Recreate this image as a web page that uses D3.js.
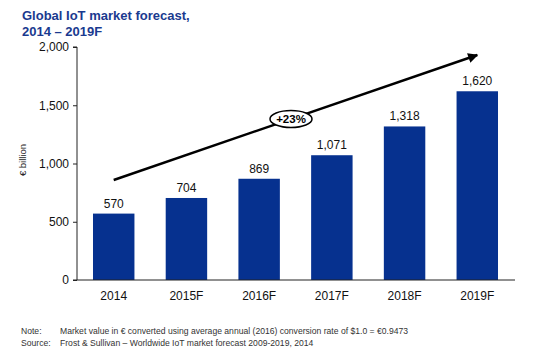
<!DOCTYPE html>
<html><head><meta charset="utf-8">
<script src="https://cdn.jsdelivr.net/npm/d3@7"></script>
<style>body{margin:0;background:#fff;font-family:"Liberation Sans",Arial,sans-serif}</style>
</head><body><svg id="c" width="535" height="358"></svg>
<script>
const categories = ["2014","2015F","2016F","2017F","2018F","2019F"];
const values = [570,704,869,1071,1318,1620];
const valueLabels = ["570","704","869","1,071","1,318","1,620"];
const yTicks = [0,500,1000,1500,2000];
const cagrLabel = "+23%";

const svg = d3.select("#c");
const blue = "#06318f";
const x = d3.scaleBand().domain(categories).range([77,514]).paddingInner(0.43).paddingOuter(0.22);
const y = d3.scaleLinear().domain([0,2000]).range([280,47]);

svg.append("text").attr("x",22).attr("y",20).attr("fill","#1a3a8f").attr("font-weight","bold").attr("font-size",13).text("Global IoT market forecast,");
svg.append("text").attr("x",22).attr("y",36).attr("fill","#1a3a8f").attr("font-weight","bold").attr("font-size",13).text("2014 – 2019F");

const ya = svg.append("g").attr("transform","translate(77,0)").call(d3.axisLeft(y).tickValues(yTicks).tickSize(4).tickPadding(4).tickFormat(d3.format(",")));
ya.select(".domain").attr("d","M-4,47H0V280H-4").attr("stroke","#222");
ya.selectAll("text").attr("font-size",12).attr("fill","#111").attr("font-family","Liberation Sans,Arial");
ya.selectAll("line").attr("stroke","#222");

svg.append("text").attr("transform","translate(26,160) rotate(-90)").attr("text-anchor","middle").attr("font-size",9.5).attr("fill","#222").text("€ billion");

svg.selectAll("rect.bar").data(values).join("rect").attr("class","bar")
  .attr("x",(d,i)=>x(categories[i])).attr("width",x.bandwidth())
  .attr("y",d=>y(d)).attr("height",d=>y(0)-y(d)).attr("fill",blue);

svg.selectAll("text.val").data(values).join("text").attr("class","val")
  .attr("x",(d,i)=>x(categories[i])+x.bandwidth()/2).attr("y",d=>y(d)-6)
  .attr("text-anchor","middle").attr("font-size",12).attr("fill","#111").text((d,i)=>valueLabels[i]);

svg.append("line").attr("x1",77).attr("x2",515).attr("y1",280).attr("y2",280).attr("stroke","#222");

svg.selectAll("text.cat").data(categories).join("text").attr("class","cat")
  .attr("x",d=>x(d)+x.bandwidth()/2).attr("y",300).attr("text-anchor","middle")
  .attr("font-size",12).attr("fill","#111").text(d=>d);

// arrow
const defs = svg.append("defs");
defs.append("marker").attr("id","ah").attr("viewBox","0 0 10 10").attr("refX",9).attr("refY",5)
  .attr("markerWidth",4.5).attr("markerHeight",4.2).attr("orient","auto").attr("markerUnits","strokeWidth")
  .append("path").attr("d","M0,0L10,5L0,10Z").attr("fill","#000");
const ax1=x(categories[0])+x.bandwidth()/2, ay1=180, ax2=x(categories[5])+x.bandwidth()/2, ay2=55;
svg.append("line").attr("x1",ax1).attr("y1",ay1).attr("x2",ax2).attr("y2",ay2).attr("stroke","#000").attr("stroke-width",2.4).attr("marker-end","url(#ah)");
const cx=291, cy=ay1+(ay2-ay1)*(cx-ax1)/(ax2-ax1);
svg.append("ellipse").attr("cx",cx).attr("cy",cy).attr("rx",21).attr("ry",8.5).attr("fill","#fff").attr("stroke","#000").attr("stroke-width",1.5);
svg.append("text").attr("x",cx).attr("y",cy+4).attr("text-anchor","middle").attr("font-weight","bold").attr("font-size",11.5).text(cagrLabel);

const foot = svg.append("g").attr("font-size",8.6).attr("fill","#333");
foot.append("text").attr("x",21).attr("y",334).text("Note:");
foot.append("text").attr("x",60).attr("y",334).text("Market value in € converted using average annual (2016) conversion rate of $1.0 = €0.9473");
foot.append("text").attr("x",21).attr("y",346).text("Source:");
foot.append("text").attr("x",60).attr("y",346).text("Frost & Sullivan – Worldwide IoT market forecast 2009-2019, 2014");
</script></body></html>
